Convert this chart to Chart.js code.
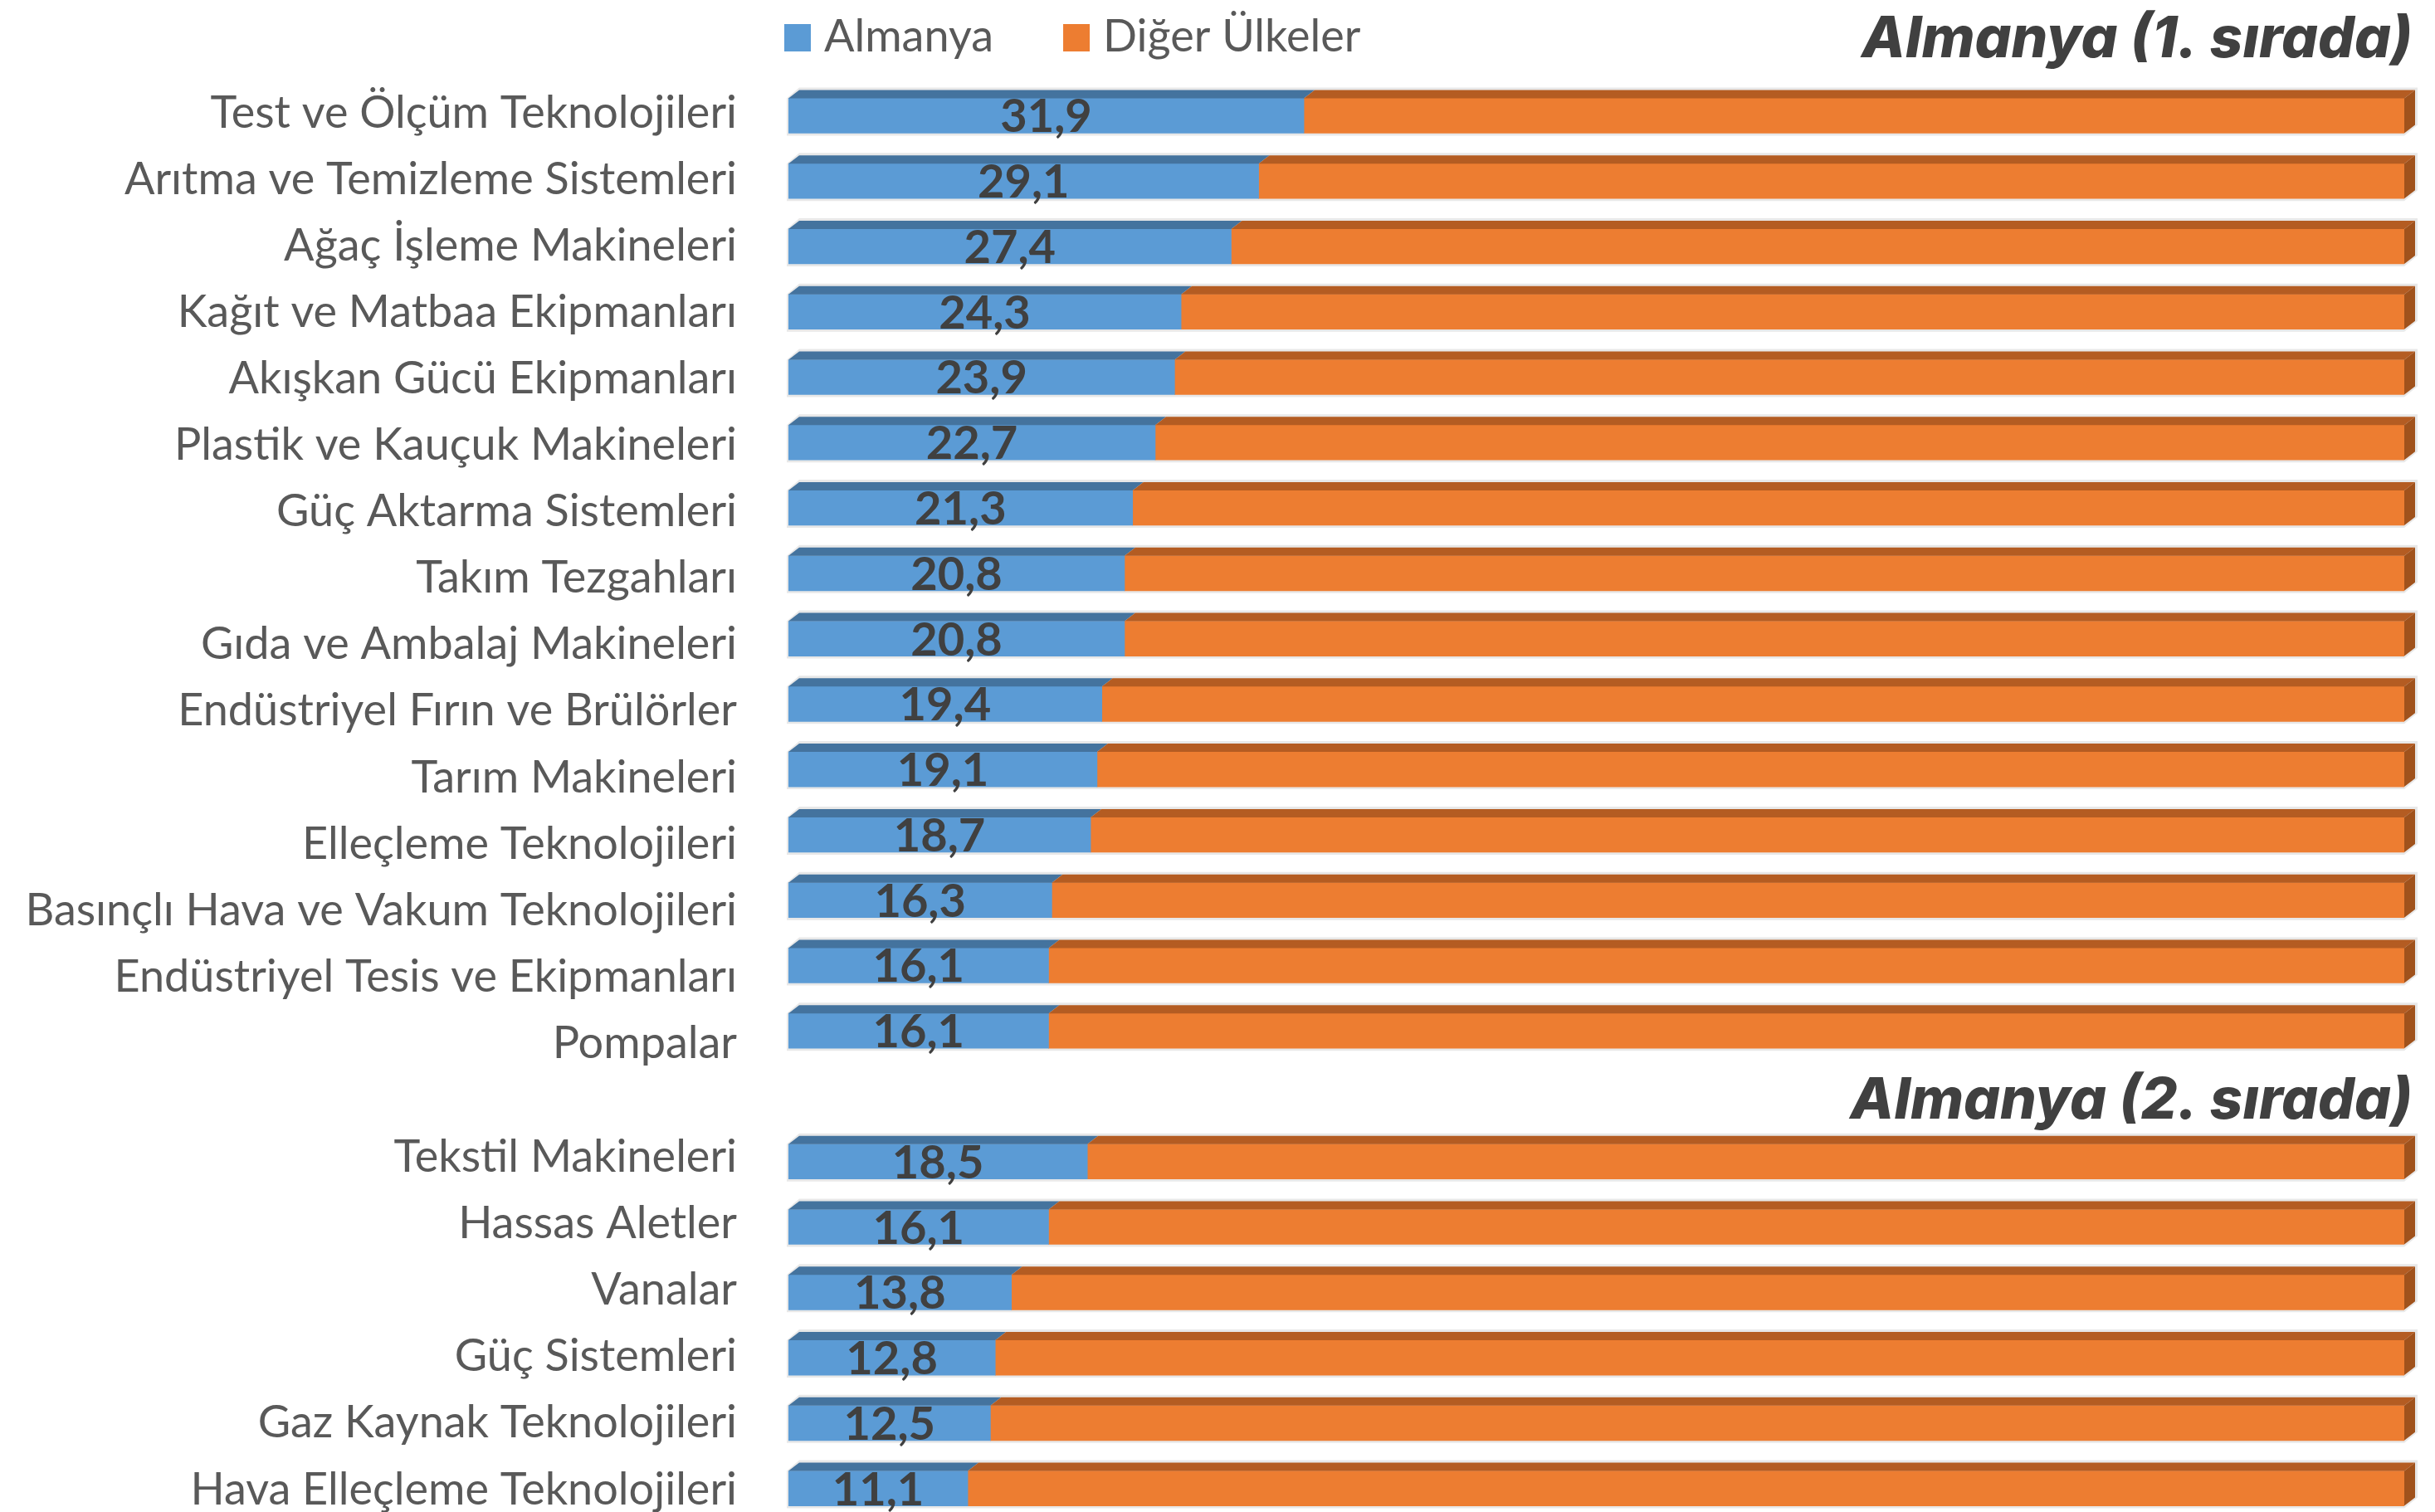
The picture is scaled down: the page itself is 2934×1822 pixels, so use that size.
<!DOCTYPE html>
<html lang="tr">
<head>
<meta charset="utf-8">
<script src="https://cdn.jsdelivr.net/npm/chart.js@4.4.1/dist/chart.umd.min.js"></script>
<style>
  html, body { margin: 0; padding: 0; background: #fff; overflow: hidden; }
  #wrap { position: absolute; left: 0; top: 0; width: 2934px; height: 1833px; }
</style>
</head>
<body>
<div id="wrap"><canvas id="chart"></canvas></div>
<script>
// categories, top to bottom ("" = spacer row between the two groups)
const categories = [
  "Test ve Ölçüm Teknolojileri",
  "Arıtma ve Temizleme Sistemleri",
  "Ağaç İşleme Makineleri",
  "Kağıt ve Matbaa Ekipmanları",
  "Akışkan Gücü Ekipmanları",
  "Plastik ve Kauçuk Makineleri",
  "Güç Aktarma Sistemleri",
  "Takım Tezgahları",
  "Gıda ve Ambalaj Makineleri",
  "Endüstriyel Fırın ve Brülörler",
  "Tarım Makineleri",
  "Elleçleme Teknolojileri",
  "Basınçlı Hava ve Vakum Teknolojileri",
  "Endüstriyel Tesis ve Ekipmanları",
  "Pompalar",
  "",
  "Tekstil Makineleri",
  "Hassas Aletler",
  "Vanalar",
  "Güç Sistemleri",
  "Gaz Kaynak Teknolojileri",
  "Hava Elleçleme Teknolojileri"
];

const almanya = [31.9, 29.1, 27.4, 24.3, 23.9, 22.7, 21.3, 20.8, 20.8, 19.4, 19.1, 18.7, 16.3, 16.1, 16.1,
  null, 18.5, 16.1, 13.8, 12.8, 12.5, 11.1];
const digerUlkeler = [68.1, 70.9, 72.6, 75.7, 76.1, 77.3, 78.7, 79.2, 79.2, 80.6, 80.9, 81.3, 83.7, 83.9, 83.9,
  null, 81.5, 83.9, 86.2, 87.2, 87.5, 88.9];

const seriesNames = ["Almanya", "Diğer Ülkeler"];
const groupTitles = ["Almanya (1. sırada)", "Almanya (2. sırada)"];
const secondGroupRow = 15;

const frontColors = ["#5B9BD5", "#ED7D31"];
const topColors = ["#44739E", "#B45C22"];
const sideColor = "#A0521C";
const DX = 13, DY = 10;

// the original category labels creep down a little per row (3d perspective)
function labelShift(i) {
  return i < secondGroupRow ? -3 + 1.3 * i : -5 + 1.3 * (i - secondGroupRow - 1);
}

// 3d faces, value labels, legend and group titles
const extras = {
  id: "extras",
  beforeDatasetsDraw(chart) {
    const ctx = chart.ctx;
    const first = chart.getDatasetMeta(0).data;
    const last = chart.getDatasetMeta(1).data;
    ctx.save();
    ctx.fillStyle = "rgba(0,0,0,0.09)";
    first.forEach((b, i) => {
      if (almanya[i] == null) return;
      const e = last[i];
      const t = b.y - b.height / 2, btm = b.y + b.height / 2;
      ctx.beginPath();
      ctx.moveTo(b.base - 2, btm + 3);
      ctx.lineTo(b.base - 2, t);
      ctx.lineTo(b.base + DX, t - DY - 3);
      ctx.lineTo(e.x + DX + 3, t - DY - 3);
      ctx.lineTo(e.x + DX + 3, btm - DY);
      ctx.lineTo(e.x, btm + 3);
      ctx.closePath();
      ctx.fill();
    });
    ctx.restore();
  },
  afterDatasetsDraw(chart) {
    const ctx = chart.ctx;
    ctx.save();
    chart.data.datasets.forEach((ds, di) => {
      chart.getDatasetMeta(di).data.forEach((b, i) => {
        if (ds.data[i] == null) return;
        const l = Math.min(b.x, b.base), r = Math.max(b.x, b.base);
        const t = b.y - b.height / 2, btm = b.y + b.height / 2;
        ctx.fillStyle = topColors[di];
        ctx.beginPath();
        ctx.moveTo(l, t);
        ctx.lineTo(r, t);
        ctx.lineTo(r + DX, t - DY);
        ctx.lineTo(l + DX, t - DY);
        ctx.closePath();
        ctx.fill();
        if (di === chart.data.datasets.length - 1) {
          ctx.fillStyle = sideColor;
          ctx.beginPath();
          ctx.moveTo(r, t);
          ctx.lineTo(r + DX, t - DY);
          ctx.lineTo(r + DX, btm - DY);
          ctx.lineTo(r, btm);
          ctx.closePath();
          ctx.fill();
        }
      });
    });

    // value labels on the Almanya part
    ctx.font = "bold 56px Lato";
    ctx.fillStyle = "#404040";
    ctx.textAlign = "center";
    ctx.textBaseline = "alphabetic";
    chart.getDatasetMeta(0).data.forEach((b, i) => {
      if (almanya[i] == null) return;
      ctx.fillText(almanya[i].toFixed(1).replace(".", ","), (b.x + b.base) / 2, b.y + 20);
    });

    // legend
    ctx.font = "54px Lato";
    ctx.textAlign = "left";
    let lx = chart.chartArea.left - 5;
    chart.data.datasets.forEach(ds => {
      ctx.fillStyle = ds.backgroundColor;
      ctx.fillRect(lx, 29, 32, 33);
      ctx.fillStyle = "#595959";
      ctx.fillText(ds.label, lx + 48, 62);
      lx += 48 + ctx.measureText(ds.label).width + 84;
    });

    // group titles
    const ys = chart.scales.y;
    ctx.font = "italic 800 69px Inter";
    ctx.fillStyle = "#404040";
    ctx.textAlign = "right";
    const tx = chart.chartArea.right + 10;
    ctx.fillText(groupTitles[0], tx, 69);
    ctx.fillText(groupTitles[1], tx, ys.getPixelForValue(secondGroupRow) + 27);
    ctx.restore();
  }
};

new Chart(document.getElementById("chart"), {
  type: "bar",
  data: {
    labels: categories,
    datasets: [
      { label: seriesNames[0], data: almanya, backgroundColor: frontColors[0], barThickness: 42 },
      { label: seriesNames[1], data: digerUlkeler, backgroundColor: frontColors[1], barThickness: 42 }
    ]
  },
  options: {
    indexAxis: "y",
    responsive: true,
    maintainAspectRatio: false,
    animation: false,
    devicePixelRatio: 1,
    layout: { padding: { top: 100, right: 37, left: 0, bottom: 0 } },
    plugins: { legend: { display: false }, tooltip: { enabled: false } },
    scales: {
      x: { stacked: true, min: 0, max: 100, display: false },
      y: {
        stacked: true,
        grid: { display: false, drawTicks: false },
        border: { display: false },
        ticks: {
          autoSkip: false,
          padding: 62,
          color: "#595959",
          font: { family: "Lato", size: 54 }
        },
        afterFit(scale) {
          scale.width = 950;
          scale.paddingTop = 0;
          scale.paddingBottom = 0;
        },
        afterUpdate(scale) {
          const proto = Object.getPrototypeOf(scale);
          scale.getPixelForTick = function (i) {
            return proto.getPixelForTick.call(this, i) + labelShift(i);
          };
        }
      }
    }
  },
  plugins: [extras]
});
</script>
</body>
</html>
